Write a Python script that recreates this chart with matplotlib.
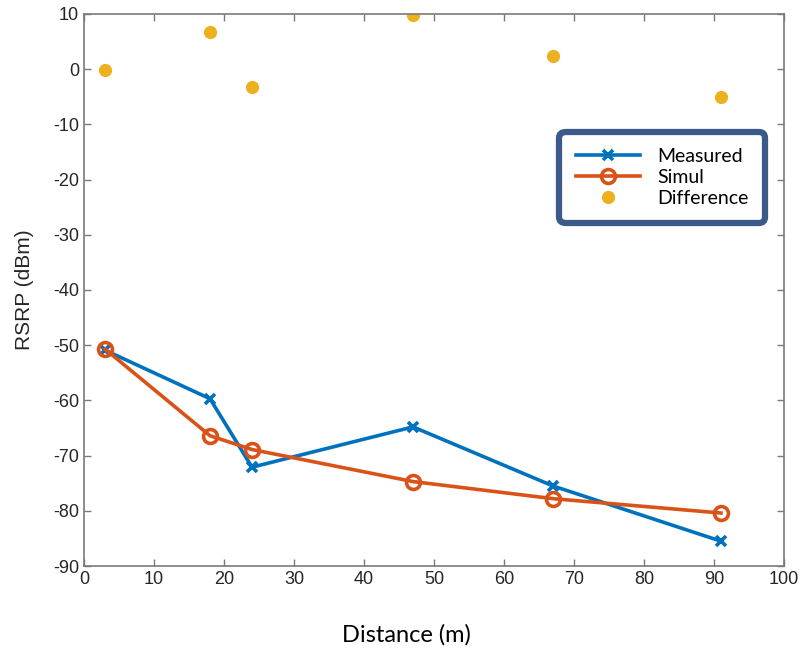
import matplotlib.pyplot as plt

plt.rcParams['axes.unicode_minus'] = False

# data
distance = [3, 18, 24, 47, 67, 91]
measured = [-50.9, -59.7, -72.1, -64.8, -75.5, -85.5]
simul = [-50.7, -66.4, -68.9, -74.7, -77.8, -80.4]
difference = [-0.2, 6.7, -3.2, 9.8, 2.3, -5.1]

xticks = list(range(0, 101, 10))
yticks = list(range(-90, 11, 10))

blue = '#0072BD'
orange = '#D95319'
yellow = '#EDB120'

fig = plt.figure(figsize=(8.04, 6.59), dpi=100)
ax = fig.add_axes([0.1045, 0.1411, 0.8706, 0.8377])

ax.plot(distance, measured, color=blue, lw=2.6, marker='x', ms=7, mew=2.6, label='Measured')
ax.plot(distance, simul, color=orange, lw=2.6, marker='o', ms=10, mew=2.6,
        mfc='none', label='Simul')
ax.plot(distance, difference, ls='none', marker='o', ms=8.5, color=yellow, label='Difference')

ax.set_xlim(0, 100)
ax.set_ylim(-90, 10)
ax.set_xticks(xticks)
ax.set_yticks(yticks)
ax.tick_params(direction='in', top=True, right=True, length=5, width=1, color='#7a7a7a',
               labelsize=13, labelcolor='#262626')
for lab in ax.get_xticklabels() + ax.get_yticklabels():
    lab.set_family('Liberation Sans')
for sp in ax.spines.values():
    sp.set_color('#7a7a7a')
    sp.set_linewidth(1.2)

ax.set_ylabel('RSRP (dBm)', fontsize=15, color='#262626', family='Liberation Sans', labelpad=14)
fig.text(0.505, 0.037, 'Distance (m)', ha='center', va='center', fontsize=17, family='Lato')

leg = ax.legend(loc='upper left', bbox_to_anchor=(0.679, 0.787),
                prop={'family': 'Lato', 'size': 14}, handlelength=3.3, handletextpad=0.9,
                labelspacing=0.2, borderpad=0.85, borderaxespad=0, fancybox=True, framealpha=1)
frame = leg.get_frame()
frame.set_edgecolor('#3B5A8A')
frame.set_linewidth(4.5)
frame.set_boxstyle('round', pad=0.0, rounding_size=0.35)

fig.savefig('out.png', dpi=100)
